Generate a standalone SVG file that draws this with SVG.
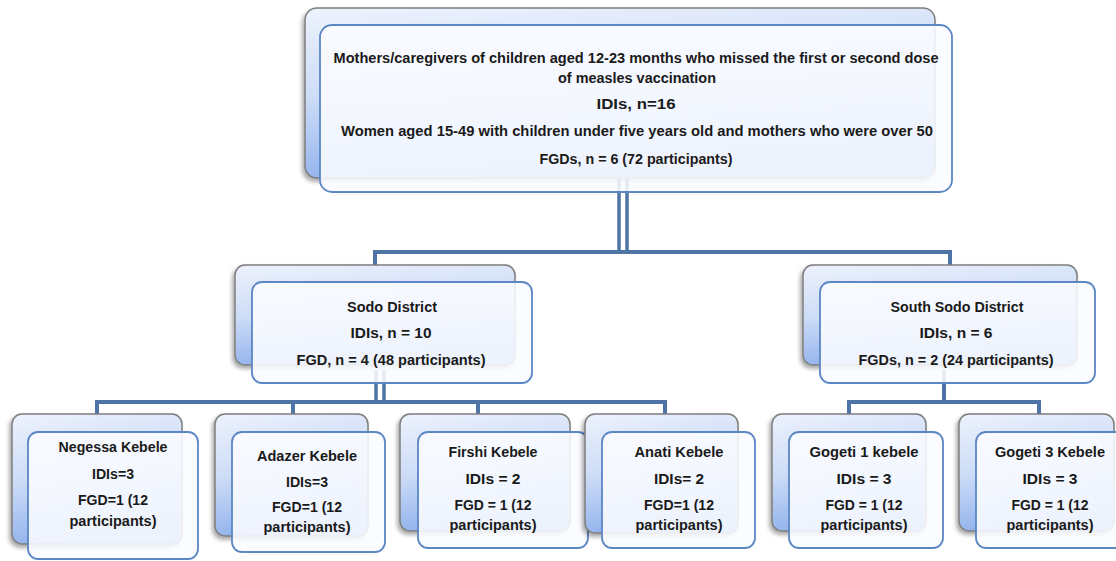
<svg xmlns="http://www.w3.org/2000/svg" width="1116" height="561" viewBox="0 0 1116 561">
<defs>
<linearGradient id="bg" x1="0" y1="0" x2="0.25" y2="1">
<stop offset="0" stop-color="#edf2fd"/>
<stop offset="0.5" stop-color="#cddcf7"/>
<stop offset="1" stop-color="#8fb1ec"/>
</linearGradient>
<filter id="sh" x="-10%" y="-10%" width="120%" height="130%">
<feDropShadow dx="-2" dy="3" stdDeviation="2" flood-color="#000" flood-opacity="0.35"/>
</filter>
<style>
.back{fill:url(#bg);stroke:#7d7d7d;stroke-width:1.5;filter:url(#sh)}
.front{fill:#fbfcff;fill-opacity:0.88;stroke:#5b87c4;stroke-width:1.8}
.t{font-family:"Liberation Sans",Arial,sans-serif;font-weight:bold;font-size:14.5px;fill:#1a1a1a;text-anchor:middle}
.c{fill:none;stroke:#4e74a6;stroke-width:4}
.c2{fill:none;stroke:#4e74a6;stroke-width:3.5}
</style>
</defs>
<g id="connectors">
<path class="c2" d="M619 175V254M627 175V254"/>
<path class="c" d="M375 265V252H950V265"/>
<path class="c2" d="M376 370V402M384 370V402"/>
<path class="c" d="M97 414V402H665V414M293 402V414M478 402V414"/>
<path class="c" d="M944 370V402"/>
<path class="c" d="M849 414V402H1039V414"/>
</g>
<g id="top">
<rect class="back" x="305" y="8" width="630" height="170" rx="12"/>
<rect class="front" x="320" y="25" width="632" height="167" rx="12"/>
<text class="t" x="636" y="63" textLength="605" lengthAdjust="spacingAndGlyphs">Mothers/caregivers of children aged 12-23 months who missed the first or second dose</text>
<text class="t" x="637" y="83" textLength="158" lengthAdjust="spacingAndGlyphs">of measles vaccination</text>
<text class="t" x="636" y="109" textLength="79" lengthAdjust="spacingAndGlyphs">IDIs, n=16</text>
<text class="t" x="637" y="136" textLength="592" lengthAdjust="spacingAndGlyphs">Women aged 15-49 with children under five years old and mothers who were over 50</text>
<text class="t" x="636" y="164" textLength="193" lengthAdjust="spacingAndGlyphs">FGDs, n = 6 (72 participants)</text>
</g>
<g id="sodo">
<rect class="back" x="235" y="265" width="280" height="100" rx="10"/>
<rect class="front" x="252" y="282" width="280" height="101" rx="10"/>
<text class="t" x="392" y="312" textLength="90" lengthAdjust="spacingAndGlyphs">Sodo District</text>
<text class="t" x="391" y="338" textLength="81" lengthAdjust="spacingAndGlyphs">IDIs, n = 10</text>
<text class="t" x="391" y="365" textLength="189" lengthAdjust="spacingAndGlyphs">FGD, n = 4 (48 participants)</text>
</g>
<g id="southsodo">
<rect class="back" x="803" y="265" width="274" height="100" rx="10"/>
<rect class="front" x="820" y="282" width="275" height="101" rx="10"/>
<text class="t" x="957" y="312" textLength="133" lengthAdjust="spacingAndGlyphs">South Sodo District</text>
<text class="t" x="956" y="338" textLength="73" lengthAdjust="spacingAndGlyphs">IDIs, n = 6</text>
<text class="t" x="956" y="365" textLength="195" lengthAdjust="spacingAndGlyphs">FGDs, n = 2 (24 participants)</text>
</g>
<g id="negessa">
<rect class="back" x="12" y="414" width="170" height="130" rx="10"/>
<rect class="front" x="28" y="432" width="170" height="127" rx="10"/>
<text class="t" x="113" y="452" textLength="109" lengthAdjust="spacingAndGlyphs">Negessa Kebele</text>
<text class="t" x="113" y="479" textLength="42" lengthAdjust="spacingAndGlyphs">IDIs=3</text>
<text class="t" x="113" y="505" textLength="70" lengthAdjust="spacingAndGlyphs">FGD=1 (12</text>
<text class="t" x="113" y="526" textLength="87" lengthAdjust="spacingAndGlyphs">participants)</text>
</g>
<g id="adazer">
<rect class="back" x="215" y="414" width="153" height="122" rx="10"/>
<rect class="front" x="232" y="432" width="153" height="120" rx="10"/>
<text class="t" x="307" y="461" textLength="100" lengthAdjust="spacingAndGlyphs">Adazer Kebele</text>
<text class="t" x="307" y="487" textLength="42" lengthAdjust="spacingAndGlyphs">IDIs=3</text>
<text class="t" x="307" y="512" textLength="70" lengthAdjust="spacingAndGlyphs">FGD=1 (12</text>
<text class="t" x="307" y="532" textLength="87" lengthAdjust="spacingAndGlyphs">participants)</text>
</g>
<g id="firshi">
<rect class="back" x="400" y="414" width="170" height="117" rx="10"/>
<rect class="front" x="418" y="432" width="170" height="116" rx="10"/>
<text class="t" x="493" y="457" textLength="89" lengthAdjust="spacingAndGlyphs">Firshi Kebele</text>
<text class="t" x="493" y="484" textLength="55" lengthAdjust="spacingAndGlyphs">IDIs = 2</text>
<text class="t" x="493" y="510" textLength="77" lengthAdjust="spacingAndGlyphs">FGD = 1 (12</text>
<text class="t" x="493" y="530" textLength="87" lengthAdjust="spacingAndGlyphs">participants)</text>
</g>
<g id="anati">
<rect class="back" x="585" y="414" width="153" height="119" rx="10"/>
<rect class="front" x="602" y="432" width="153" height="116" rx="10"/>
<text class="t" x="679" y="457" textLength="89" lengthAdjust="spacingAndGlyphs">Anati Kebele</text>
<text class="t" x="679" y="484" textLength="50" lengthAdjust="spacingAndGlyphs">IDIs= 2</text>
<text class="t" x="679" y="510" textLength="70" lengthAdjust="spacingAndGlyphs">FGD=1 (12</text>
<text class="t" x="679" y="530" textLength="87" lengthAdjust="spacingAndGlyphs">participants)</text>
</g>
<g id="gogeti1">
<rect class="back" x="772" y="414" width="154" height="117" rx="10"/>
<rect class="front" x="789" y="432" width="154" height="116" rx="10"/>
<text class="t" x="864" y="457" textLength="109" lengthAdjust="spacingAndGlyphs">Gogeti 1 kebele</text>
<text class="t" x="864" y="484" textLength="55" lengthAdjust="spacingAndGlyphs">IDIs = 3</text>
<text class="t" x="864" y="510" textLength="77" lengthAdjust="spacingAndGlyphs">FGD = 1 (12</text>
<text class="t" x="864" y="530" textLength="87" lengthAdjust="spacingAndGlyphs">participants)</text>
</g>
<g id="gogeti3">
<rect class="back" x="959" y="414" width="155" height="117" rx="10"/>
<rect class="front" x="976" y="432" width="150" height="116" rx="10"/>
<text class="t" x="1050" y="457" textLength="110" lengthAdjust="spacingAndGlyphs">Gogeti 3 Kebele</text>
<text class="t" x="1050" y="484" textLength="55" lengthAdjust="spacingAndGlyphs">IDIs = 3</text>
<text class="t" x="1050" y="510" textLength="77" lengthAdjust="spacingAndGlyphs">FGD = 1 (12</text>
<text class="t" x="1050" y="530" textLength="87" lengthAdjust="spacingAndGlyphs">participants)</text>
</g>
</svg>
